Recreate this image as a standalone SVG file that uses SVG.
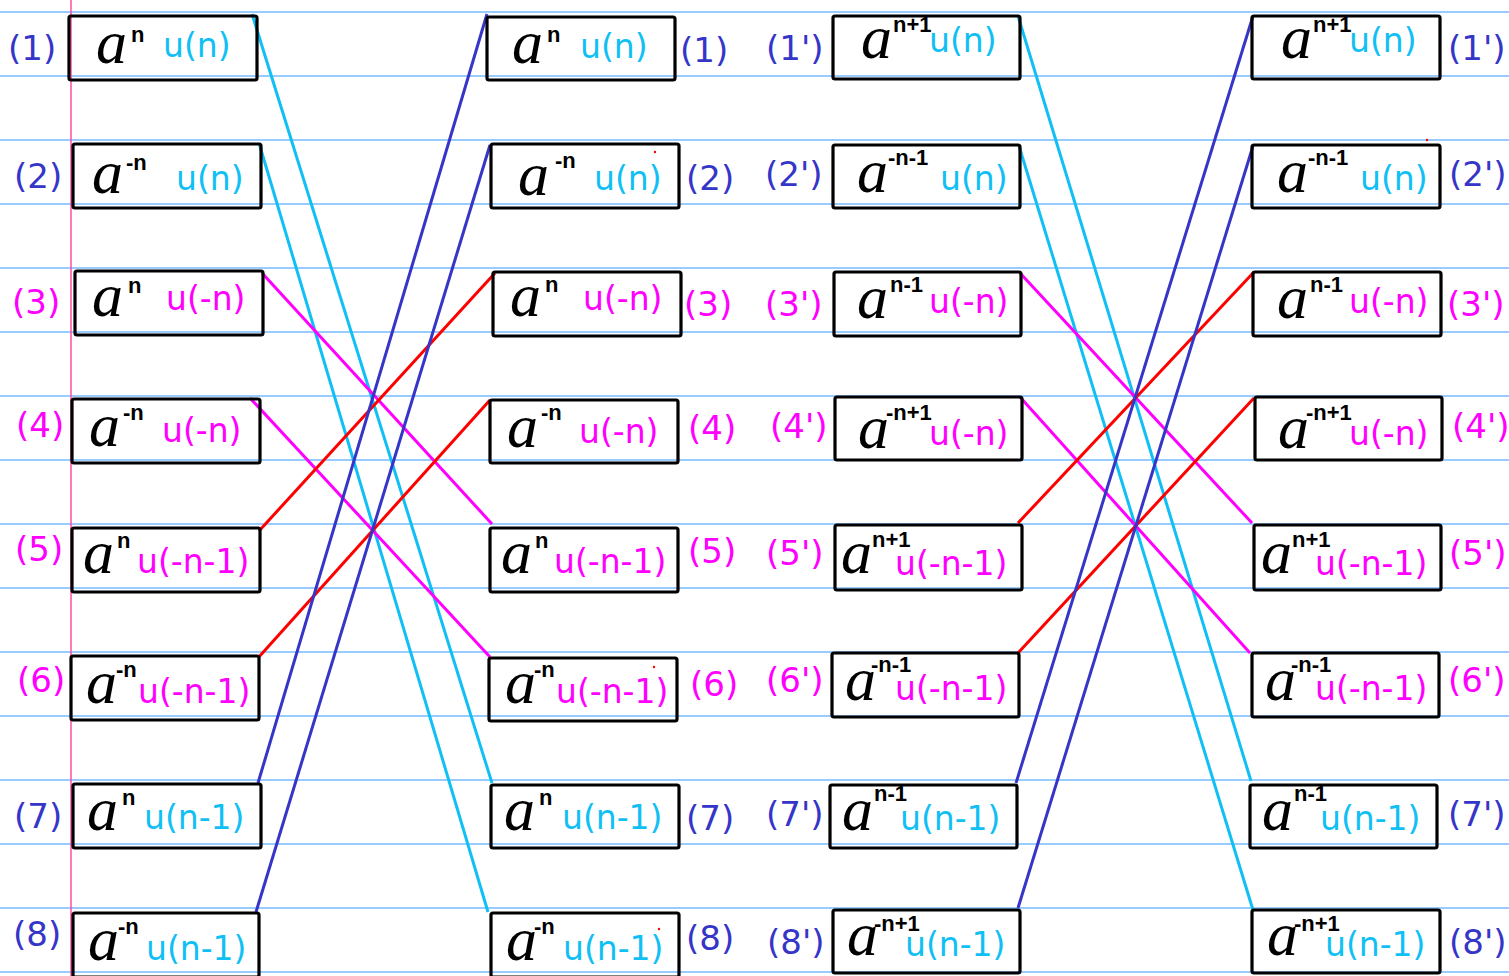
<svg xmlns="http://www.w3.org/2000/svg" width="1509" height="976" viewBox="0 0 1509 976">
<style>
.rule{stroke:#3399ff;stroke-width:1.2}
.box{fill:none;stroke:#000;stroke-width:3.2}
.a{font-family:"Liberation Serif",serif;font-style:italic;font-size:62px;fill:#000}
.s{font-family:"Liberation Sans",Arial,sans-serif;font-weight:bold;font-size:22px;fill:#000}
.u{font-family:"DejaVu Sans",sans-serif;font-size:33px}
.lb{font-family:"DejaVu Sans",sans-serif;font-size:34px}
.c{fill:#10c0f5}.m{fill:#ff00ff}.d{fill:#3535c8}
.lc{stroke:#10c0f5}.lm{stroke:#ff00ff}.lr{stroke:#ff0000}.ld{stroke:#3535c8}
#connectors line{stroke-width:3}
</style>
<rect width="1509" height="976" fill="#fff"/>
<g id="rules">
<line class="rule" x1="0" y1="12" x2="1509" y2="12"/>
<line class="rule" x1="0" y1="76" x2="1509" y2="76"/>
<line class="rule" x1="0" y1="140" x2="1509" y2="140"/>
<line class="rule" x1="0" y1="204" x2="1509" y2="204"/>
<line class="rule" x1="0" y1="268" x2="1509" y2="268"/>
<line class="rule" x1="0" y1="332" x2="1509" y2="332"/>
<line class="rule" x1="0" y1="396" x2="1509" y2="396"/>
<line class="rule" x1="0" y1="460" x2="1509" y2="460"/>
<line class="rule" x1="0" y1="524" x2="1509" y2="524"/>
<line class="rule" x1="0" y1="588" x2="1509" y2="588"/>
<line class="rule" x1="0" y1="652" x2="1509" y2="652"/>
<line class="rule" x1="0" y1="716" x2="1509" y2="716"/>
<line class="rule" x1="0" y1="780" x2="1509" y2="780"/>
<line class="rule" x1="0" y1="844" x2="1509" y2="844"/>
<line class="rule" x1="0" y1="908" x2="1509" y2="908"/>
<line class="rule" x1="0" y1="972" x2="1509" y2="972"/>
<line x1="71" y1="0" x2="71" y2="976" stroke="#ff4da6" stroke-width="1.5"/>
</g>
<g id="connectors">
<line class="lc" x1="252" y1="14" x2="492" y2="783"/>
<line class="lc" x1="259" y1="143" x2="488" y2="912"/>
<line class="lm" x1="262" y1="273" x2="492" y2="524"/>
<line class="lm" x1="250" y1="398" x2="490" y2="657"/>
<line class="lr" x1="259" y1="531" x2="495" y2="273"/>
<line class="lr" x1="258" y1="658" x2="490" y2="400"/>
<line class="ld" x1="258" y1="783" x2="487" y2="14"/>
<line class="ld" x1="256" y1="912" x2="490" y2="145"/>
<line class="lc" x1="1018" y1="16" x2="1251" y2="781"/>
<line class="lc" x1="1019" y1="146" x2="1253" y2="910"/>
<line class="lm" x1="1020" y1="273" x2="1252" y2="523"/>
<line class="lm" x1="1020" y1="397" x2="1250" y2="653"/>
<line class="lr" x1="1018" y1="523" x2="1254" y2="272"/>
<line class="lr" x1="1018" y1="653" x2="1254" y2="398"/>
<line class="ld" x1="1016" y1="783" x2="1253" y2="16"/>
<line class="ld" x1="1018" y1="908" x2="1253" y2="146"/>
</g>
<!-- column 1 -->
<g id="n1"><rect class="box" x="69" y="16" width="188" height="64" rx="2"/><text class="a" x="96" y="63">a</text><text class="s" x="131" y="42">n</text><text class="u c" x="163" y="57">u(n)</text><text class="lb d" x="8" y="60">(1)</text></g>
<g id="n2"><rect class="box" x="73" y="144" width="188" height="64" rx="2"/><text class="a" x="92" y="193">a</text><text class="s" x="126" y="170">-n</text><text class="u c" x="176" y="190">u(n)</text><text class="lb d" x="14" y="188">(2)</text></g>
<g id="n3"><rect class="box" x="75" y="271" width="188" height="64" rx="2"/><text class="a" x="92" y="316">a</text><text class="s" x="128" y="293">n</text><text class="u m" x="166" y="310">u(-n)</text><text class="lb m" x="12" y="314">(3)</text></g>
<g id="n4"><rect class="box" x="72" y="399" width="188" height="64" rx="2"/><text class="a" x="89" y="446">a</text><text class="s" x="123" y="420">-n</text><text class="u m" x="162" y="442">u(-n)</text><text class="lb m" x="16" y="437">(4)</text></g>
<g id="n5"><rect class="box" x="72" y="528" width="188" height="64" rx="2"/><text class="a" x="83" y="573">a</text><text class="s" x="117" y="548">n</text><text class="u m" x="137" y="573">u(-n-1)</text><text class="lb m" x="15" y="561">(5)</text></g>
<g id="n6"><rect class="box" x="71" y="656" width="188" height="64" rx="2"/><text class="a" x="86" y="703">a</text><text class="s" x="116" y="677">-n</text><text class="u m" x="138" y="703">u(-n-1)</text><text class="lb m" x="17" y="692">(6)</text></g>
<g id="n7"><rect class="box" x="73" y="784" width="188" height="64" rx="2"/><text class="a" x="87" y="830">a</text><text class="s" x="122" y="805">n</text><text class="u c" x="144" y="829">u(n-1)</text><text class="lb d" x="14" y="828">(7)</text></g>
<g id="n8"><rect class="box" x="73" y="913" width="186" height="64" rx="2"/><text class="a" x="88" y="960">a</text><text class="s" x="118" y="934">-n</text><text class="u c" x="146" y="960">u(n-1)</text><text class="lb d" x="13" y="946">(8)</text></g>
<!-- column 2 -->
<g id="m1"><rect class="box" x="487" y="17" width="188" height="63" rx="2"/><text class="a" x="512" y="63">a</text><text class="s" x="547" y="42">n</text><text class="u c" x="580" y="58">u(n)</text><text class="lb d" x="680" y="62">(1)</text></g>
<g id="m2"><rect class="box" x="491" y="144" width="188" height="64" rx="2"/><text class="a" x="518" y="195">a</text><text class="s" x="555" y="168">-n</text><text class="u c" x="594" y="190">u(n)</text><text class="lb d" x="686" y="190">(2)</text></g>
<g id="m3"><rect class="box" x="493" y="272" width="188" height="64" rx="2"/><text class="a" x="510" y="316">a</text><text class="s" x="545" y="292">n</text><text class="u m" x="583" y="310">u(-n)</text><text class="lb m" x="684" y="316">(3)</text></g>
<g id="m4"><rect class="box" x="490" y="400" width="188" height="63" rx="2"/><text class="a" x="507" y="447">a</text><text class="s" x="541" y="420">-n</text><text class="u m" x="579" y="443">u(-n)</text><text class="lb m" x="688" y="440">(4)</text></g>
<g id="m5"><rect class="box" x="490" y="528" width="188" height="64" rx="2"/><text class="a" x="501" y="573">a</text><text class="s" x="535" y="548">n</text><text class="u m" x="554" y="573">u(-n-1)</text><text class="lb m" x="688" y="563">(5)</text></g>
<g id="m6"><rect class="box" x="489" y="658" width="188" height="63" rx="2"/><text class="a" x="505" y="703">a</text><text class="s" x="534" y="677">-n</text><text class="u m" x="556" y="703">u(-n-1)</text><text class="lb m" x="690" y="696">(6)</text></g>
<g id="m7"><rect class="box" x="491" y="785" width="188" height="63" rx="2"/><text class="a" x="504" y="830">a</text><text class="s" x="539" y="805">n</text><text class="u c" x="562" y="829">u(n-1)</text><text class="lb d" x="686" y="830">(7)</text></g>
<g id="m8"><rect class="box" x="491" y="913" width="188" height="64" rx="2"/><text class="a" x="506" y="960">a</text><text class="s" x="534" y="934">-n</text><text class="u c" x="563" y="960">u(n-1)</text><text class="lb d" x="686" y="950">(8)</text></g>
<!-- column 3 -->
<g id="p1"><rect class="box" x="833" y="16" width="187" height="63" rx="2"/><text class="a" x="861" y="58">a</text><text class="s" x="893" y="32">n+1</text><text class="u c" x="929" y="52">u(n)</text><text class="lb d" x="766" y="60">(1')</text></g>
<g id="p2"><rect class="box" x="833" y="145" width="187" height="63" rx="2"/><text class="a" x="857" y="192">a</text><text class="s" x="888" y="165">-n-1</text><text class="u c" x="940" y="190">u(n)</text><text class="lb d" x="765" y="186">(2')</text></g>
<g id="p3"><rect class="box" x="834" y="272" width="187" height="64" rx="2"/><text class="a" x="857" y="318">a</text><text class="s" x="890" y="292">n-1</text><text class="u m" x="929" y="313">u(-n)</text><text class="lb m" x="765" y="316">(3')</text></g>
<g id="p4"><rect class="box" x="835" y="397" width="187" height="63" rx="2"/><text class="a" x="858" y="448">a</text><text class="s" x="886" y="420">-n+1</text><text class="u m" x="929" y="445">u(-n)</text><text class="lb m" x="770" y="438">(4')</text></g>
<g id="p5"><rect class="box" x="835" y="525" width="187" height="65" rx="2"/><text class="a" x="841" y="573">a</text><text class="s" x="872" y="547">n+1</text><text class="u m" x="895" y="575">u(-n-1)</text><text class="lb m" x="766" y="565">(5')</text></g>
<g id="p6"><rect class="box" x="832" y="653" width="187" height="64" rx="2"/><text class="a" x="845" y="700">a</text><text class="s" x="871" y="672">-n-1</text><text class="u m" x="895" y="700">u(-n-1)</text><text class="lb m" x="766" y="692">(6')</text></g>
<g id="p7"><rect class="box" x="830" y="785" width="187" height="63" rx="2"/><text class="a" x="842" y="830">a</text><text class="s" x="874" y="801">n-1</text><text class="u c" x="900" y="830">u(n-1)</text><text class="lb d" x="766" y="826">(7')</text></g>
<g id="p8"><rect class="box" x="833" y="910" width="187" height="63" rx="2"/><text class="a" x="847" y="955">a</text><text class="s" x="874" y="931">-n+1</text><text class="u c" x="905" y="956">u(n-1)</text><text class="lb d" x="767" y="954">(8')</text></g>
<!-- column 4 -->
<g id="q1"><rect class="box" x="1252" y="16" width="188" height="63" rx="2"/><text class="a" x="1281" y="58">a</text><text class="s" x="1313" y="32">n+1</text><text class="u c" x="1349" y="52">u(n)</text><text class="lb d" x="1448" y="60">(1')</text></g>
<g id="q2"><rect class="box" x="1252" y="145" width="188" height="63" rx="2"/><text class="a" x="1277" y="192">a</text><text class="s" x="1308" y="165">-n-1</text><text class="u c" x="1360" y="190">u(n)</text><text class="lb d" x="1449" y="186">(2')</text></g>
<g id="q3"><rect class="box" x="1253" y="272" width="188" height="64" rx="2"/><text class="a" x="1277" y="318">a</text><text class="s" x="1310" y="292">n-1</text><text class="u m" x="1349" y="313">u(-n)</text><text class="lb m" x="1447" y="316">(3')</text></g>
<g id="q4"><rect class="box" x="1255" y="397" width="187" height="63" rx="2"/><text class="a" x="1278" y="448">a</text><text class="s" x="1306" y="420">-n+1</text><text class="u m" x="1349" y="445">u(-n)</text><text class="lb m" x="1452" y="438">(4')</text></g>
<g id="q5"><rect class="box" x="1254" y="525" width="187" height="65" rx="2"/><text class="a" x="1261" y="573">a</text><text class="s" x="1292" y="547">n+1</text><text class="u m" x="1315" y="575">u(-n-1)</text><text class="lb m" x="1449" y="565">(5')</text></g>
<g id="q6"><rect class="box" x="1252" y="653" width="187" height="64" rx="2"/><text class="a" x="1265" y="700">a</text><text class="s" x="1291" y="672">-n-1</text><text class="u m" x="1315" y="700">u(-n-1)</text><text class="lb m" x="1448" y="692">(6')</text></g>
<g id="q7"><rect class="box" x="1250" y="785" width="187" height="63" rx="2"/><text class="a" x="1262" y="830">a</text><text class="s" x="1294" y="801">n-1</text><text class="u c" x="1320" y="830">u(n-1)</text><text class="lb d" x="1448" y="826">(7')</text></g>
<g id="q8"><rect class="box" x="1252" y="910" width="188" height="63" rx="2"/><text class="a" x="1267" y="955">a</text><text class="s" x="1294" y="931">-n+1</text><text class="u c" x="1325" y="956">u(n-1)</text><text class="lb d" x="1449" y="954">(8')</text></g>
<g id="specks" fill="#ff0000">
<circle cx="655" cy="152" r="1.2"/><circle cx="1427" cy="140" r="1.2"/><circle cx="654" cy="667" r="1.2"/><circle cx="659" cy="929" r="1.2"/>
</g>
</svg>
